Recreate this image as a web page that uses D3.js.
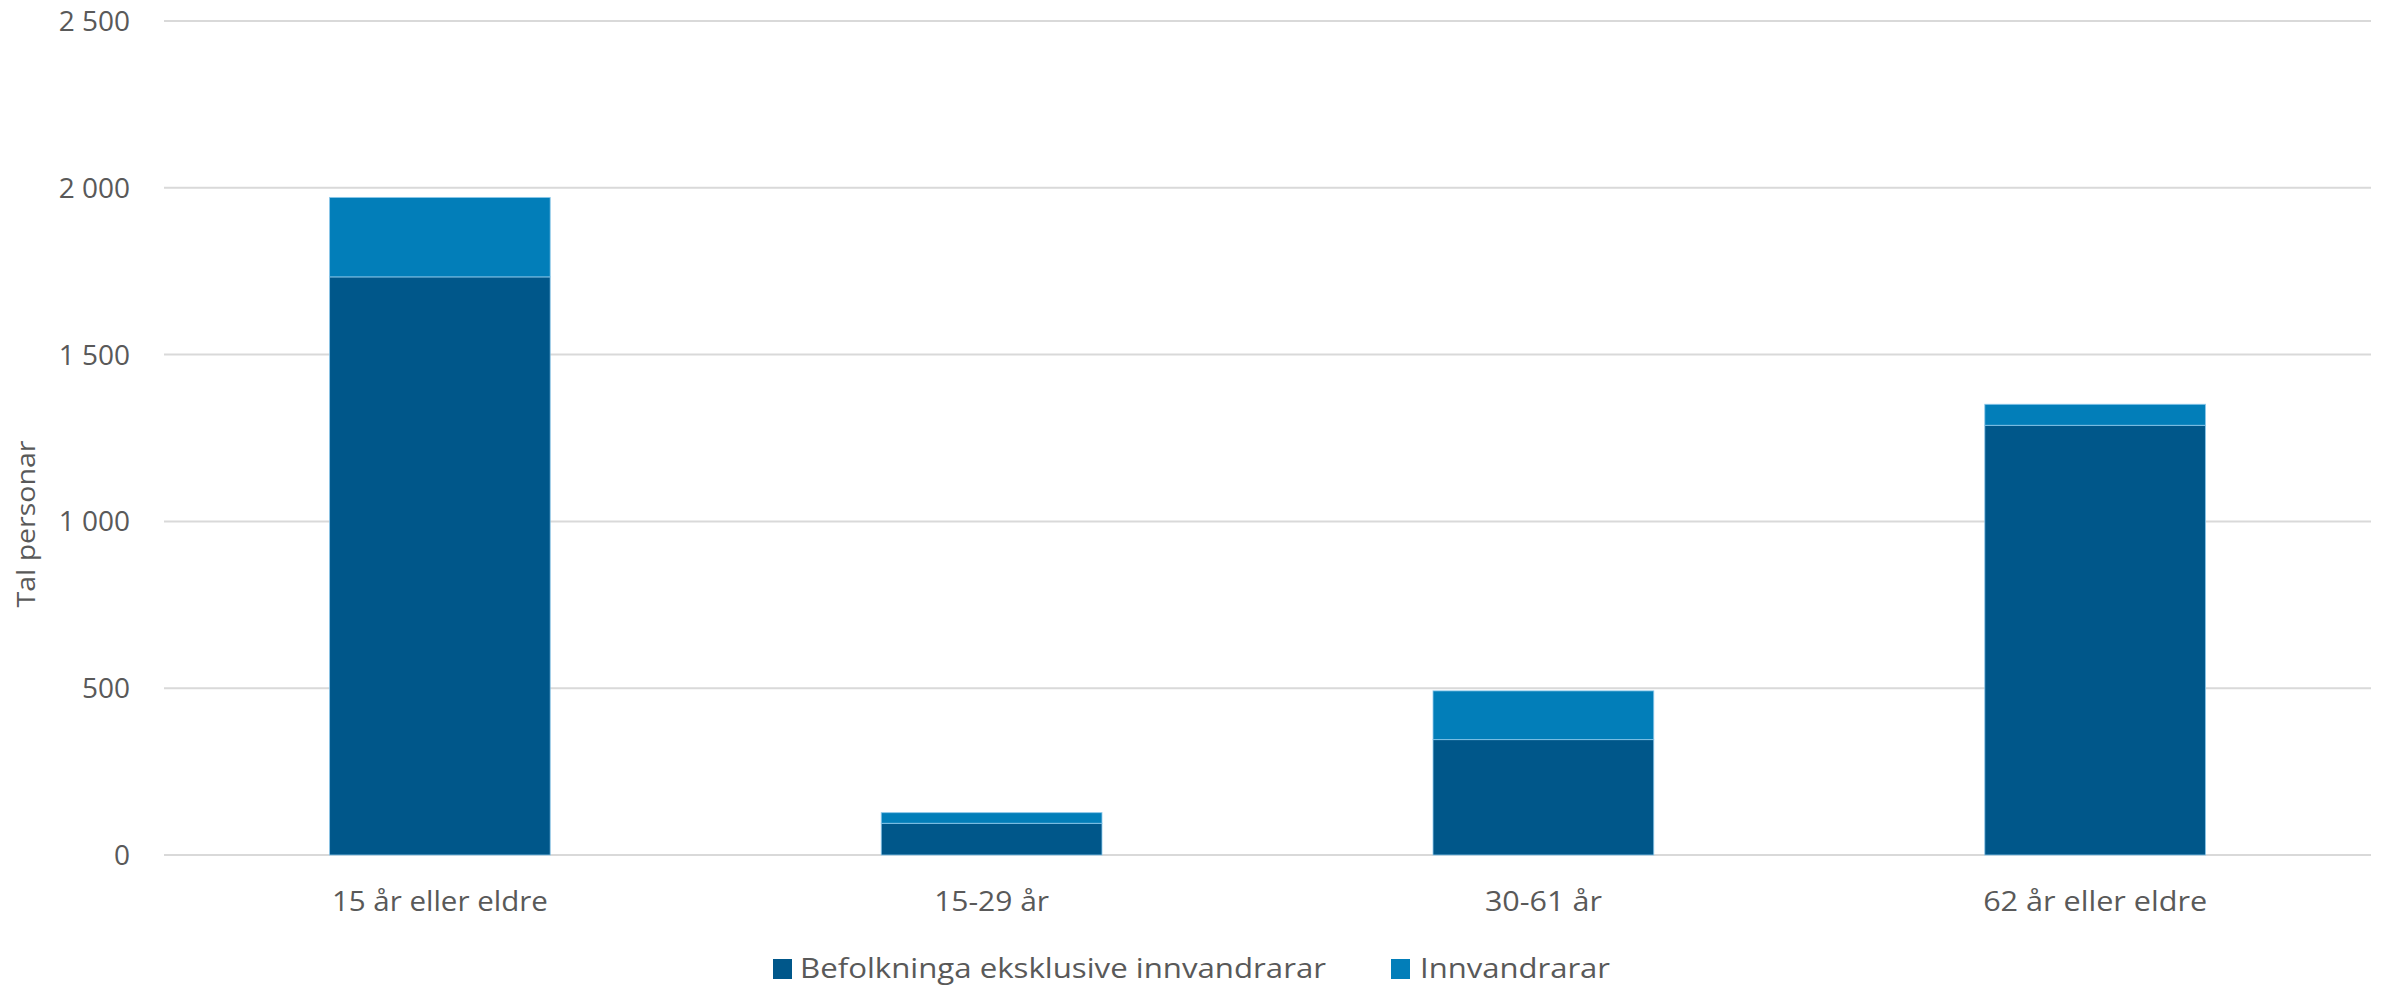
<!DOCTYPE html>
<html><head><meta charset="utf-8">
<script src="https://cdn.jsdelivr.net/npm/d3@7"></script>
<style>
html,body{margin:0;padding:0;background:#fff;}
text{font-family:"Open Sans","Lato",sans-serif;fill:#595959;}
</style></head>
<body>
<svg id="chart" width="2381" height="985"></svg>
<script>
const categories = ["15 år eller eldre", "15-29 år", "30-61 år", "62 år eller eldre"];
const befolkning = [1733, 95, 346, 1288];
const innvandrarar = [238, 32, 146, 63];
const seriesNames = ["Befolkninga eksklusive innvandrarar", "Innvandrarar"];
const yTicks = [0, 500, 1000, 1500, 2000, 2500];
const colors = ["#00578a", "#027eb9"];

(function () {
const svg = d3.select("#chart");
const mLeft = 164, mRight = 2371, mTop = 21, mBottom = 855;

const y = d3.scaleLinear().domain([0, 2500]).range([mBottom, mTop]);
const x = d3.scaleBand().domain(categories).range([mLeft, mRight]).padding(0);
const fmt = d3.formatLocale({decimal: ",", thousands: "\u00a0", grouping: [3], currency: ["", ""]}).format(",d");

// gridlines
svg.append("g").selectAll("line").data(yTicks).join("line")
  .attr("x1", mLeft).attr("x2", mRight)
  .attr("y1", d => y(d)).attr("y2", d => y(d))
  .attr("stroke", "#d9d9d9").attr("stroke-width", 2);

// y tick labels
svg.append("g").selectAll("text").data(yTicks).join("text")
  .attr("x", 130).attr("y", d => y(d)).attr("dy", "0.36em")
  .attr("text-anchor", "end").attr("font-size", 28)
  .text(d => fmt(d));

// stacked bars
const rows = categories.map((c, i) => ({cat: c, b: befolkning[i], v: innvandrarar[i]}));
const stack = d3.stack().keys(["b", "v"])(rows);
const bw = x.bandwidth() * 0.4;
svg.append("g").selectAll("g").data(stack).join("g")
  .attr("fill", (d, i) => colors[i])
  .selectAll("rect").data(d => d).join("rect")
  .attr("x", d => x(d.data.cat) + (x.bandwidth() - bw) / 2)
  .attr("width", bw)
  .attr("y", d => y(d[1]))
  .attr("height", d => y(d[0]) - y(d[1]))
  .attr("stroke", "rgba(140,200,235,0.8)").attr("stroke-width", 1);

// x labels
const xLabelWidths = [216, 115, 117, 224];
svg.append("g").selectAll("text").data(categories).join("text")
  .attr("x", d => x(d) + x.bandwidth() / 2).attr("y", 911)
  .attr("text-anchor", "middle").attr("font-size", 28)
  .attr("textLength", (d, i) => xLabelWidths[i]).attr("lengthAdjust", "spacingAndGlyphs")
  .text(d => d);

// y title
svg.append("text")
  .attr("transform", "translate(35,524) rotate(-90)")
  .attr("text-anchor", "middle").attr("font-size", 26)
  .attr("textLength", 167).attr("lengthAdjust", "spacingAndGlyphs")
  .text("Tal personar");

// legend
const legend = [
  {name: seriesNames[0], sx: 773, tx: 800, tw: 526},
  {name: seriesNames[1], sx: 1391, tx: 1420, tw: 190}
];
const lg = svg.append("g").selectAll("g").data(legend).join("g");
lg.append("rect").attr("x", d => d.sx).attr("y", 959).attr("width", 19).attr("height", 20)
  .attr("fill", (d, i) => colors[i]);
lg.append("text").attr("x", d => d.tx).attr("y", 978).attr("font-size", 28)
  .attr("textLength", d => d.tw).attr("lengthAdjust", "spacingAndGlyphs")
  .text(d => d.name);
})();
</script>
</body></html>
